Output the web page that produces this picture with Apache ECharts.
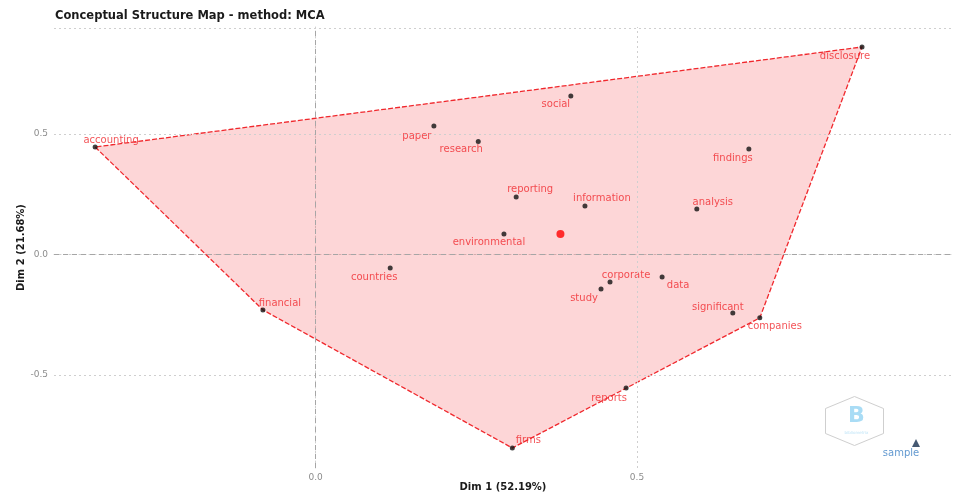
<!DOCTYPE html>
<html>
<head>
<meta charset="utf-8">
<script src="https://cdn.jsdelivr.net/npm/echarts@6/dist/echarts.min.js"></script>
<style>
  html, body { margin: 0; padding: 0; background: #fff; }
  #chart { width: 954px; height: 492px; }
</style>
</head>
<body>
<div id="chart"></div>
<script>
// MCA word map: coordinates on the first two dimensions
const words = ['accounting', 'paper', 'research', 'social', 'disclosure', 'findings',
  'reporting', 'information', 'analysis', 'environmental', 'countries', 'corporate',
  'study', 'data', 'significant', 'companies', 'financial', 'reports', 'firms', 'sample'];
const dim1 = [-0.343, 0.184, 0.253, 0.397, 0.850, 0.674,
  0.312, 0.419, 0.593, 0.293, 0.116, 0.458,
  0.444, 0.539, 0.649, 0.691, -0.082, 0.483, 0.306, 0.934];
const dim2 = [0.446, 0.533, 0.469, 0.658, 0.861, 0.438,
  0.239, 0.201, 0.189, 0.085, -0.056, -0.114,
  -0.143, -0.093, -0.243, -0.263, -0.230, -0.554, -0.803, -0.782];
const cluster = [1, 1, 1, 1, 1, 1, 1, 1, 1, 1, 1, 1, 1, 1, 1, 1, 1, 1, 1, 2];

const xTicks = [0, 0.5];
const yTicks = [-0.5, 0, 0.5];
const xTitle = 'Dim 1 (52.19%)';
const yTitle = 'Dim 2 (21.68%)';
const title = 'Conceptual Structure Map - method: MCA';

// repelled label placement (pixel offset from each point)
const labelOffset = {
  accounting: [16, -7], paper: [-17, 10], research: [-17, 8], social: [-15, 8],
  disclosure: [-17, 9], findings: [-16, 9], reporting: [14, -7], information: [17, -8],
  analysis: [16, -7], environmental: [-15, 8], countries: [-16, 9], corporate: [16, -7],
  study: [-17, 9], data: [16, 9], significant: [-15, -6], companies: [15, 9],
  financial: [17, -7], reports: [-17, 10], firms: [16, -8], sample: [-15, 10]
};

const X_MIN = -0.407, X_MAX = 0.99, Y_MIN = -0.886, Y_MAX = 0.944;
const RED = '#f0282d';
const FONT = 'DejaVu Sans';

// points of each cluster
const c1 = [];
words.forEach((w, i) => { if (cluster[i] === 1) c1.push([dim1[i], dim2[i], w]); });
const c2 = [];
words.forEach((w, i) => { if (cluster[i] === 2) c2.push([dim1[i], dim2[i], w]); });

// convex hull (monotone chain)
function hull(pts) {
  const p = pts.map(a => [a[0], a[1]]).sort((a, b) => a[0] - b[0] || a[1] - b[1]);
  const cross = (o, a, b) => (a[0] - o[0]) * (b[1] - o[1]) - (a[1] - o[1]) * (b[0] - o[0]);
  const lower = [];
  for (const q of p) {
    while (lower.length >= 2 && cross(lower[lower.length - 2], lower[lower.length - 1], q) <= 0) lower.pop();
    lower.push(q);
  }
  const upper = [];
  for (let i = p.length - 1; i >= 0; i--) {
    const q = p[i];
    while (upper.length >= 2 && cross(upper[upper.length - 2], upper[upper.length - 1], q) <= 0) upper.pop();
    upper.push(q);
  }
  upper.pop(); lower.pop();
  return lower.concat(upper);
}
const hull1 = hull(c1);
const centroid1 = [
  c1.reduce((s, a) => s + a[0], 0) / c1.length,
  c1.reduce((s, a) => s + a[1], 0) / c1.length
];

function pointData(arr) {
  return arr.map(a => ({
    value: [a[0], a[1]],
    name: a[2],
    label: { offset: labelOffset[a[2]] || [0, 0] }
  }));
}

const gridDotted = { color: '#cfcfcf', type: [2, 3], width: 1 };
const zeroDashed = { color: '#a6a6a6', type: [5, 4], width: 1 };

const chart = echarts.init(document.getElementById('chart'));
chart.setOption({
  animation: false,
  backgroundColor: '#ffffff',
  title: {
    text: title,
    left: 50, top: 5,
    textStyle: { fontFamily: FONT, fontWeight: 'bold', fontSize: 11.5, color: '#1a1a1a' }
  },
  grid: { left: 54, right: 2, top: 27, bottom: 24, outerBoundsMode: 'none', containLabel: false },
  xAxis: {
    type: 'value', min: X_MIN, max: X_MAX,
    name: xTitle, nameLocation: 'middle', nameGap: 14, nameMoveOverlap: false,
    nameTextStyle: { fontFamily: FONT, fontWeight: 'bold', fontSize: 10, color: '#1a1a1a' },
    axisLine: { show: true, lineStyle: gridDotted },
    axisTick: { show: false },
    splitLine: { show: false },
    axisLabel: {
      customValues: xTicks, margin: 5,
      formatter: v => v.toFixed(1),
      fontFamily: FONT, fontSize: 9, color: '#8c8c8c'
    }
  },
  yAxis: {
    type: 'value', min: Y_MIN, max: Y_MAX,
    name: yTitle, nameLocation: 'middle', nameGap: 28, nameRotate: 90, nameMoveOverlap: false,
    nameTextStyle: { fontFamily: FONT, fontWeight: 'bold', fontSize: 10, color: '#1a1a1a' },
    axisLine: { show: true, lineStyle: gridDotted },
    axisTick: { show: false },
    splitLine: { show: false },
    axisLabel: {
      customValues: yTicks, margin: 6,
      formatter: v => v.toFixed(1),
      fontFamily: FONT, fontSize: 9, color: '#8c8c8c'
    }
  },
  series: [
    {
      // panel grid lines and reference axes
      type: 'scatter', data: [], z: 1, silent: true,
      markLine: {
        symbol: 'none', silent: true, label: { show: false },
        data: [
          { xAxis: 0.5, lineStyle: gridDotted },
          { yAxis: -0.5, lineStyle: gridDotted },
          { yAxis: 0.5, lineStyle: gridDotted },
          { yAxis: Y_MAX, lineStyle: gridDotted },
          { xAxis: 0, lineStyle: zeroDashed },
          { yAxis: 0, lineStyle: zeroDashed }
        ]
      }
    },
    {
      // cluster hull
      type: 'custom', z: 2, silent: true,
      data: [0],
      renderItem: (params, api) => ({
        type: 'polygon',
        shape: { points: hull1.map(p => api.coord(p)) },
        style: { fill: 'rgba(242,0,6,0.16)', stroke: RED, lineWidth: 1.3, lineDash: [5, 2] }
      })
    },
    {
      type: 'scatter', z: 3, symbol: 'circle', symbolSize: 5,
      itemStyle: { color: '#111' },
      data: pointData(c1),
      label: {
        show: true, position: 'inside', formatter: p => p.name,
        fontFamily: FONT, fontSize: 10, color: RED
      }
    },
    {
      type: 'scatter', z: 3, symbol: 'circle', symbolSize: 8,
      itemStyle: { color: '#ff0000' },
      data: [centroid1]
    },
    {
      type: 'scatter', z: 3, symbol: 'triangle', symbolSize: 8,
      itemStyle: { color: '#17304f' },
      data: pointData(c2),
      label: {
        show: true, position: 'inside', formatter: p => p.name,
        fontFamily: FONT, fontSize: 10, color: '#3b7fc4'
      }
    }
  ],
  graphic: [
    {
      // logo watermark
      type: 'group', left: 823, top: 394, silent: true,
      children: [
        { type: 'polygon', shape: { points: [[29, 0], [58, 12], [58, 37], [29, 49], [0, 37], [0, 12]] },
          style: { fill: 'none', stroke: '#cfcfcf', lineWidth: 1 } },
        { type: 'text', style: { text: 'B', x: 31, y: 20, align: 'center', verticalAlign: 'middle',
          font: 'bold 22px DejaVu Sans', fill: '#a9dcf5' } },
        { type: 'text', style: { text: 'bibliometrix', x: 31, y: 36, align: 'center', verticalAlign: 'middle',
          font: '4px DejaVu Sans', fill: '#bfe4f7' } }
      ]
    }
  ]
});
</script>
</body>
</html>
